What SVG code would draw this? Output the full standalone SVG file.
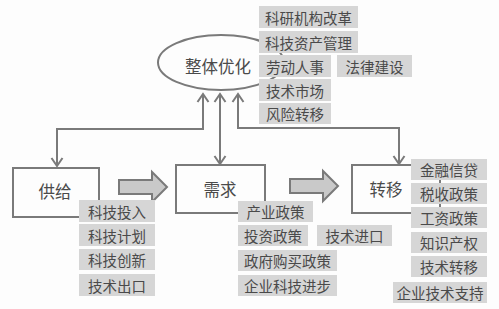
<svg xmlns="http://www.w3.org/2000/svg" width="499" height="309" viewBox="0 0 499 309">
<style>
.bg{fill:#fdfdfd}
.node{fill:#fdfdfd;stroke:#7a7a7a;stroke-width:2}
.tag{fill:#d6d6d6}
.t{font-family:"Noto Sans CJK SC","Noto Sans CJK JP",sans-serif;fill:#4a4a4a;text-anchor:middle;dominant-baseline:central}
.ts{font-size:14.5px}
.tl{font-size:16.5px}
.conn{fill:none;stroke:#7a7a7a;stroke-width:2}
.fat{fill:#c9c9c9;stroke:#7a7a7a;stroke-width:2}
</style>
<defs>
<marker id="arr" markerUnits="userSpaceOnUse" markerWidth="14" markerHeight="14" viewBox="0 0 14 14" refX="11" refY="7" orient="auto-start-reverse">
<path d="M3,1.5 L11,7 L3,12.5" fill="none" stroke="#7a7a7a" stroke-width="2"/>
</marker>
</defs>
<rect class="bg" x="0" y="0" width="499" height="309"/>

<g id="connectors">
<path class="conn" d="M203,94 L203,129 L57,129 L57,166" marker-start="url(#arr)" marker-end="url(#arr)"/>
<path class="conn" d="M220,94 L220,164" marker-start="url(#arr)" marker-end="url(#arr)"/>
<path class="conn" d="M238,94 L238,128 L399,128 L399,164" marker-start="url(#arr)" marker-end="url(#arr)"/>
<polygon class="fat" points="119,180 152,180 152,172 167,187 152,202 152,194 119,194"/>
<polygon class="fat" points="290,179 323,179 323,171 338,186 323,201 323,193 290,193"/>
</g>

<g id="whole">
<ellipse class="node" cx="221" cy="62.5" rx="63" ry="27.5"/>
<text class="t tl" x="218" y="66">整体优化</text>
</g>

<g id="supply">
<rect class="node" x="13" y="168" width="86" height="49"/>
<text class="t tl" x="55" y="191">供给</text>
</g>

<g id="demand">
<rect class="node" x="176" y="165" width="89" height="48"/>
<text class="t tl" x="220" y="189">需求</text>
</g>

<g id="transfer">
<rect class="node" x="352" y="165" width="88" height="48"/>
<text class="t tl" x="386" y="189">转移</text>
</g>

<g id="tags-top">
<rect class="tag" x="259" y="6" width="99" height="22"/><text class="t ts" x="308.5" y="17">科研机构改革</text>
<rect class="tag" x="259" y="31" width="99" height="22"/><text class="t ts" x="308.5" y="42">科技资产管理</text>
<rect class="tag" x="259" y="55" width="72" height="22"/><text class="t ts" x="295" y="66">劳动人事</text>
<rect class="tag" x="337" y="55" width="75" height="22"/><text class="t ts" x="374.5" y="66">法律建设</text>
<rect class="tag" x="259" y="79" width="72" height="22"/><text class="t ts" x="295" y="90">技术市场</text>
<rect class="tag" x="259" y="103" width="72" height="21"/><text class="t ts" x="295" y="113.5">风险转移</text>
</g>

<g id="tags-supply">
<rect class="tag" x="79" y="200" width="76" height="22"/><text class="t ts" x="117" y="211">科技投入</text>
<rect class="tag" x="79" y="224" width="76" height="22"/><text class="t ts" x="117" y="235">科技计划</text>
<rect class="tag" x="79" y="249" width="76" height="21"/><text class="t ts" x="117" y="259.5">科技创新</text>
<rect class="tag" x="79" y="274" width="76" height="22"/><text class="t ts" x="117" y="285">技术出口</text>
</g>

<g id="tags-demand">
<rect class="tag" x="238" y="201" width="75" height="21"/><text class="t ts" x="275.5" y="211.5">产业政策</text>
<rect class="tag" x="238" y="225" width="70" height="21"/><text class="t ts" x="273" y="235.5">投资政策</text>
<rect class="tag" x="317" y="225" width="75" height="21"/><text class="t ts" x="354.5" y="235.5">技术进口</text>
<rect class="tag" x="238" y="250" width="99" height="21"/><text class="t ts" x="287.5" y="260.5">政府购买政策</text>
<rect class="tag" x="238" y="275" width="99" height="21"/><text class="t ts" x="287.5" y="285.5">企业科技进步</text>
</g>

<g id="tags-transfer">
<rect class="tag" x="411" y="159" width="76" height="21"/><text class="t ts" x="449" y="169.5">金融信贷</text>
<rect class="tag" x="411" y="183" width="76" height="21"/><text class="t ts" x="449" y="193.5">税收政策</text>
<rect class="tag" x="411" y="207" width="76" height="21"/><text class="t ts" x="449" y="217.5">工资政策</text>
<rect class="tag" x="411" y="232" width="76" height="21"/><text class="t ts" x="449" y="242.5">知识产权</text>
<rect class="tag" x="411" y="256" width="76" height="21"/><text class="t ts" x="449" y="266.5">技术转移</text>
<rect class="tag" x="393" y="282" width="94" height="21"/><text class="t ts" x="440" y="292.5">企业技术支持</text>
</g>
</svg>
